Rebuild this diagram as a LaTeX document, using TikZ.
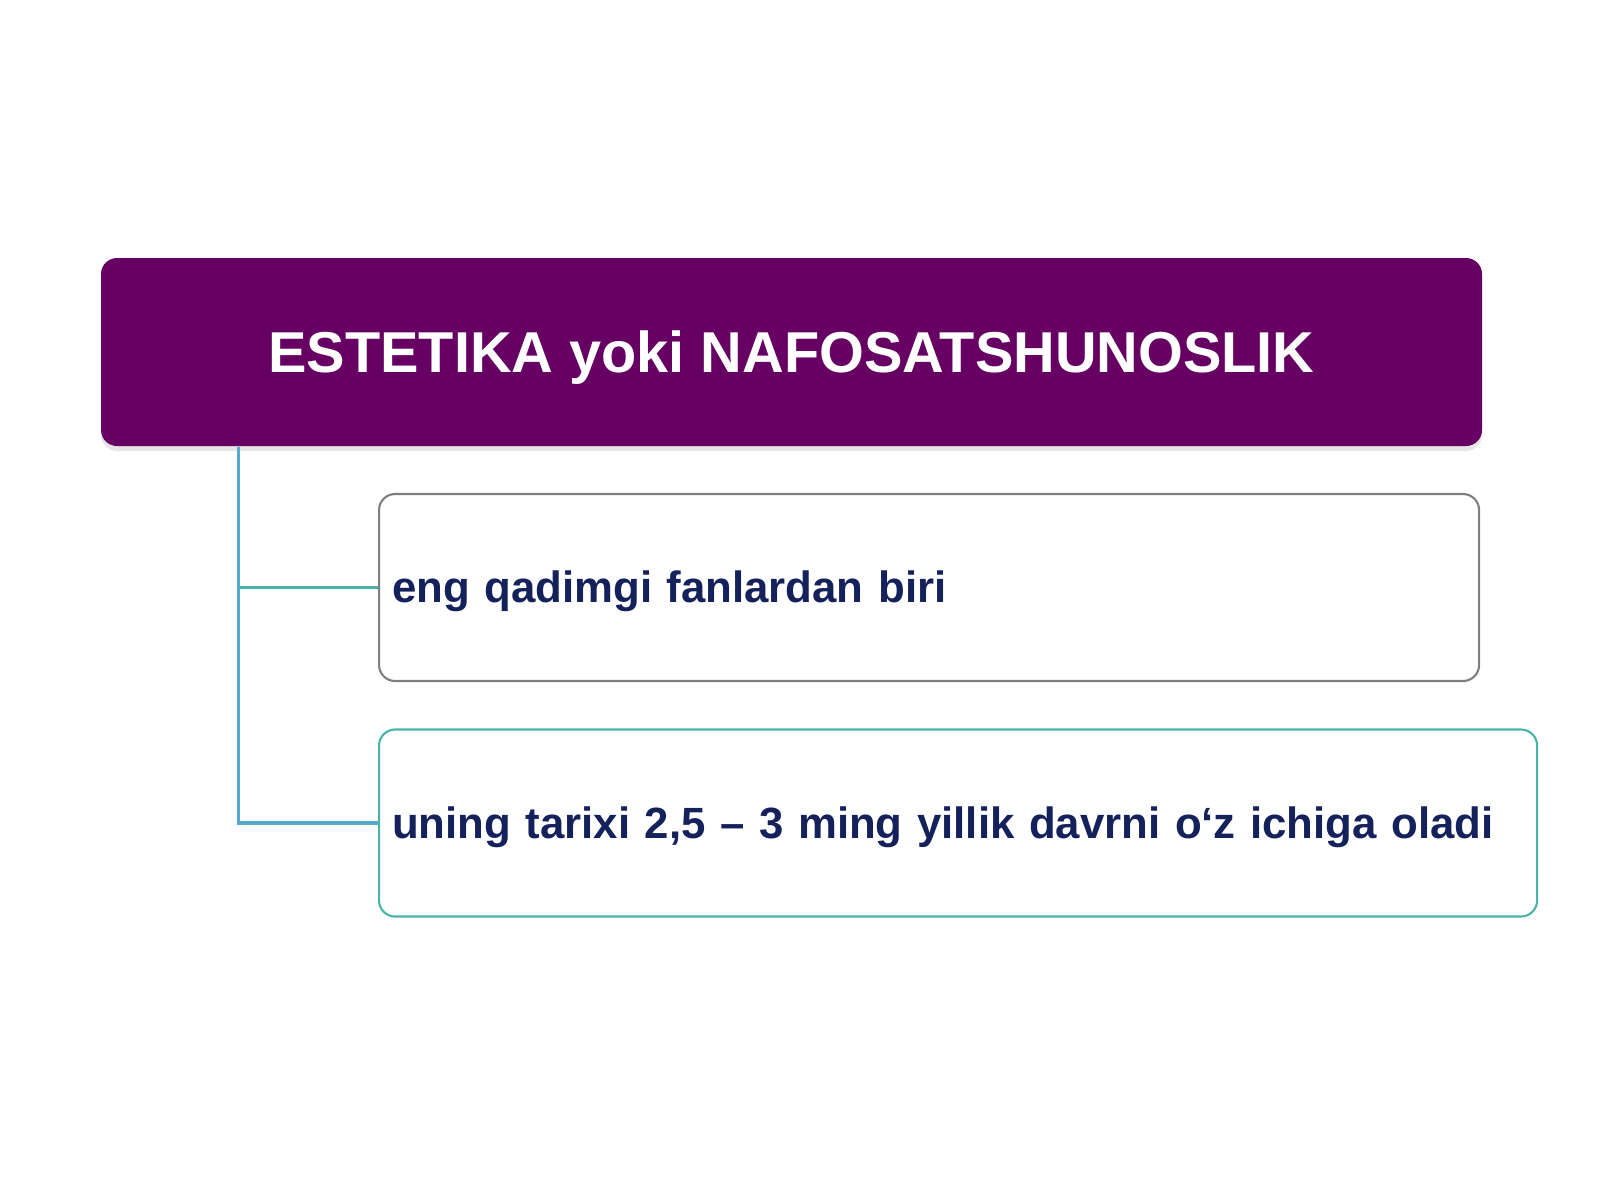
\documentclass[tikz,border=0pt]{standalone}
\usepackage{fontspec}
\setmainfont{Liberation Sans}
\usetikzlibrary{positioning,shadows}
\definecolor{plum}{HTML}{660062}
\definecolor{navy}{HTML}{14215A}
\definecolor{branchteal}{HTML}{4AB3A8}
\definecolor{branchblue}{HTML}{56A9CC}
\definecolor{boxgray}{HTML}{7F7F7F}

\begin{document}
\begin{tikzpicture}
        \tikzset{title/.style={fill=plum, rounded corners=0.16cm, text=white, font=\bfseries\fontsize{16.4}{19}\selectfont,
                minimum width=13.81cm, minimum height=1.88cm, align=center, text height=15pt, text depth=3.5pt,
                drop shadow={opacity=0.2, shadow xshift=0pt, shadow yshift=-0.05cm}},
        item/.style={draw, line width=0.6pt, rounded corners=0.16cm, fill=white, text=navy, font=\bfseries\fontsize{12.45}{15}\selectfont,
                align=left, inner xsep=0.13cm, minimum height=1.87cm, anchor=west, text height=11.3pt, text depth=2.7pt},
        link/.style={line width=0.9pt}
        }
        \useasboundingbox (0,0) rectangle (16,-12);
        \node [title] (top) at (7.915,-3.52) {ESTETIKA yoki NAFOSATSHUNOSLIK};
        \node [item, draw=boxgray, text width=10.74cm] (first) at (3.78,-5.875) {eng qadimgi fanlardan biri};
        \node [item, draw=branchteal, text width=11.32cm] (second) at (3.78,-8.23) {uning tarixi 2,5 – 3 ming yillik davrni o‘z ichiga oladi};
        \coordinate [xshift=1.38cm] (trunk) at (top.south west);  %% top of the branch line

%% branches
        \draw[link, branchteal] (trunk |- first.west) -- (first.west);
        \draw[link, branchblue] (trunk) |- (second.west);
\end{tikzpicture}
\end{document}
